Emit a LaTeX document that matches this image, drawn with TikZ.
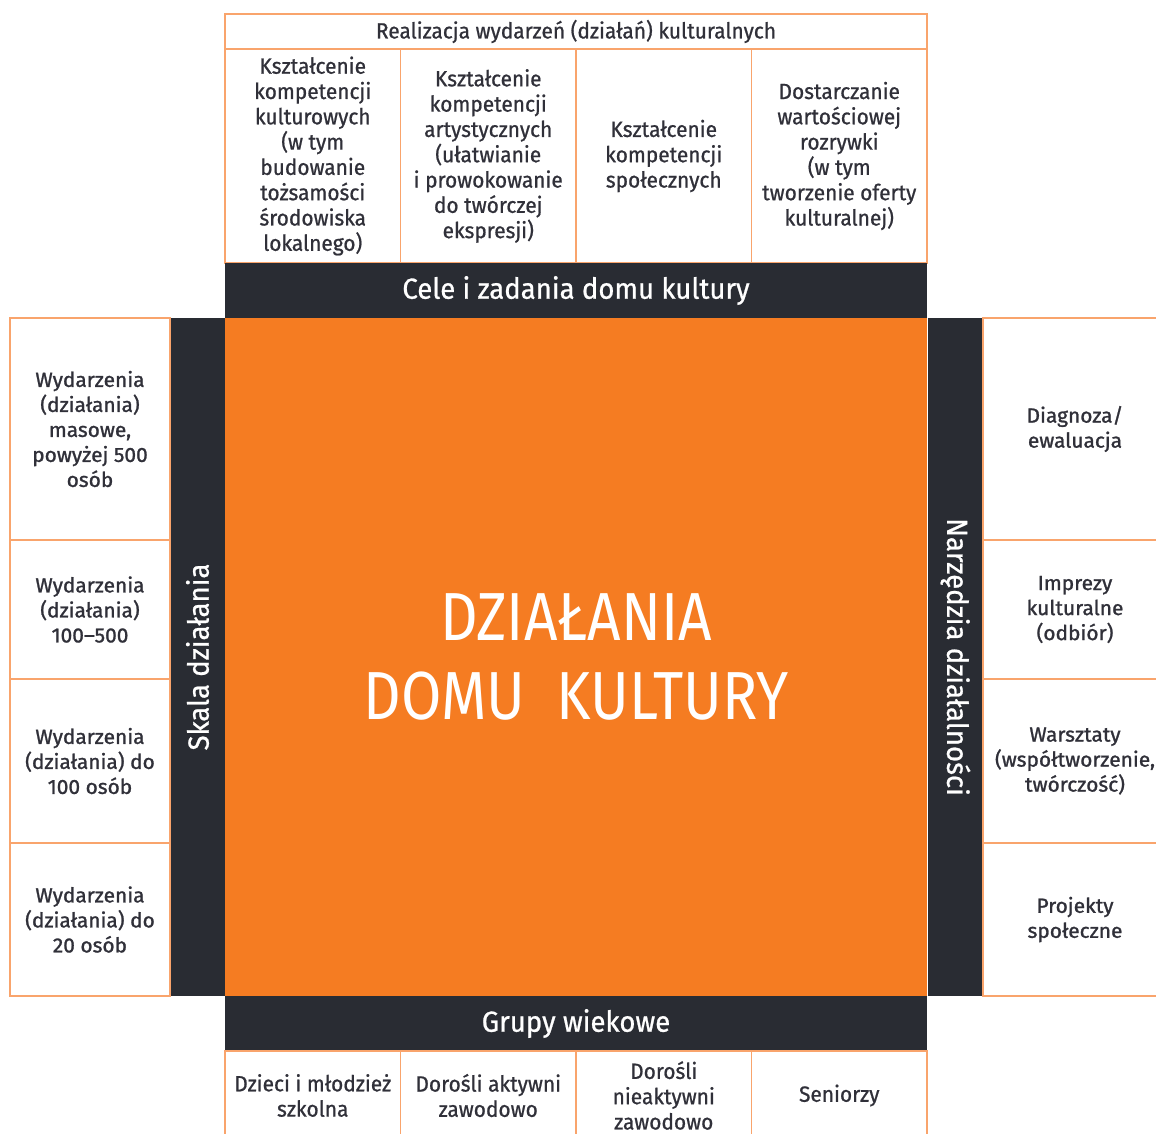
\documentclass[tikz,border=0pt]{standalone}
\usepackage{fontspec}
\setmainfont{Fira Sans}[FakeStretch=0.95, FakeBold=0.8]
\newfontfamily\widefont{Fira Sans}[FakeStretch=1.02, FakeBold=1.2]
\newfontfamily\narrowfont{Fira Sans}[FakeStretch=0.86]
\usetikzlibrary{positioning}
\definecolor{dkorange}{HTML}{F57C22}
\definecolor{dkdark}{HTML}{292C33}
\definecolor{dkline}{HTML}{F9A46C}
\definecolor{dktext}{HTML}{303039}
\tikzset{
		cell/.style={
			rectangle,
			draw=dkline, line width=1.5pt,
			fill=white,
			text=dktext,
			inner sep=2pt, outer sep=0pt,
			align=center,
			font=\fontsize{22}{25.3}\selectfont},
		topcell/.style={cell, minimum width=175.5pt, minimum height=214pt},
		lowcell/.style={cell, minimum width=175.5pt, minimum height=89pt},
		sidecell/.style={cell, minimum width=160pt,
			font=\widefont\fontsize{20.5}{25}\selectfont},
		bar/.style={
			rectangle,
			fill=dkdark,
			text=white,
			inner sep=0pt, outer sep=0pt,
			font=\fontsize{29}{32}\selectfont},
		kern/.style={
			rectangle,
			fill=dkorange,
			text=white,
			inner sep=0pt, outer sep=0pt,
			align=center,
			minimum width=702pt, minimum height=678pt,
			font=\narrowfont\fontsize{68}{79}\selectfont},
	}

\begin{document}
\begin{tikzpicture}[x=1pt, y=-1pt]
			\clip (0,0) rectangle (1156,1133);
			\fill[white] (0,0) rectangle (1156,1133);

			% cele i zadania
			\node[cell, anchor=north west, minimum width=702pt, minimum height=35pt] (title) at (225,14)
			{Realizacja wydarzeń (działań) kulturalnych};
			\node[topcell, anchor=north west] (T1) at (225,49)
			{Kształcenie\\kompetencji\\kulturowych\\(w tym\\budowanie\\tożsamości\\środowiska\\lokalnego)};
			\node[topcell, right=0pt of T1] (T2)
			{Kształcenie\\kompetencji\\artystycznych\\(ułatwianie\\i prowokowanie\\do twórczej\\ekspresji)};
			\node[topcell, right=0pt of T2] (T3)
			{Kształcenie\\kompetencji\\społecznych};
			\node[topcell, right=0pt of T3] (T4)
			{Dostarczanie\\wartościowej\\rozrywki\\(w tym\\tworzenie oferty\\kulturalnej)};

			\node[kern] (center) at (576,657) {DZIAŁANIA\\DOMU\ \ KULTURY};
			\node[bar, above=0pt of center, minimum width=702pt, minimum height=55pt] (goals)
			{Cele i zadania domu kultury};
			\node[bar, below=0pt of center, minimum width=702pt, minimum height=55pt] (groups)
			{Grupy wiekowe};
			\node[bar, rotate=90, minimum width=678pt, minimum height=55pt] (scale) at (197.5,657)
			{Skala działania};
			\node[bar, rotate=-90, minimum width=678pt, minimum height=55pt] (tools) at (955.5,657)
			{Narzędzia działalności};

			% skala
			\node[sidecell, anchor=north west, minimum height=222pt] (L1) at (10,318)
			{Wydarzenia\\(działania)\\masowe,\\powyżej 500\\osób};
			\node[sidecell, below=0pt of L1, minimum height=139pt] (L2)
			{Wydarzenia\\(działania)\\100–500};
			\node[sidecell, below=0pt of L2, minimum height=164pt] (L3)
			{Wydarzenia\\(działania) do\\100 osób};
			\node[sidecell, below=0pt of L3, minimum height=153pt] (L4)
			{Wydarzenia\\(działania) do\\20 osób};

			% narzedzia
			\node[sidecell, anchor=north west, minimum width=184pt, minimum height=222pt] (R1) at (983,318)
			{Diagnoza/\\ewaluacja};
			\node[sidecell, below=0pt of R1, minimum width=184pt, minimum height=139pt] (R2)
			{Imprezy\\kulturalne\\(odbiór)};
			\node[sidecell, below=0pt of R2, minimum width=184pt, minimum height=164pt] (R3)
			{Warsztaty\\(współtworzenie,\\twórczość)};
			\node[sidecell, below=0pt of R3, minimum width=184pt, minimum height=153pt] (R4)
			{Projekty\\społeczne};

			% grupy
			\node[lowcell, anchor=north west] (B1) at (225,1051)
			{Dzieci i młodzież\\szkolna};
			\node[lowcell, right=0pt of B1] (B2)
			{Dorośli aktywni\\zawodowo};
			\node[lowcell, right=0pt of B2] (B3)
			{Dorośli\\nieaktywni\\zawodowo};
			\node[lowcell, right=0pt of B3] (B4)
			{Seniorzy};
			\end{tikzpicture}
\end{document}
